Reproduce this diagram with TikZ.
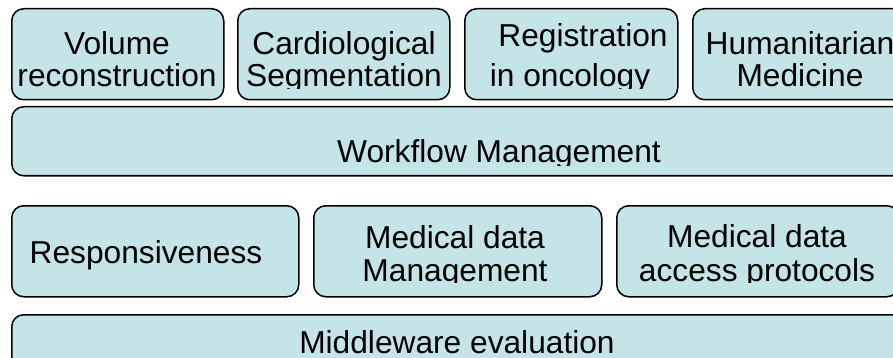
\documentclass[tikz,border=0pt]{standalone}
\usepackage{fontspec}
\setmainfont{Liberation Sans}
\definecolor{boxfill}{HTML}{C4E4E7}
\begin{document}
\begin{tikzpicture}[x=1pt,y=-1pt,
  box/.style={draw=black, line width=1.5pt, fill=boxfill, rounded corners=12pt, anchor=north west, inner sep=0pt},
  lbl/.style={anchor=base, inner sep=0pt, font=\fontsize{31.7}{33}\selectfont}]
\useasboundingbox (0,0) rectangle (893,358);
% row 1
\node[box, minimum width=212pt, minimum height=91pt] (b1) at (11,8) {};
\node[box, minimum width=212pt, minimum height=91pt] (b2) at (237,8) {};
\node[box, minimum width=213pt, minimum height=91pt] (b3) at (464,8) {};
\node[box, minimum width=216pt, minimum height=91pt] (b4) at (692,8) {};
\node[box, minimum width=976pt, minimum height=69pt] (wf) at (11,106) {};
% row 2
\node[box, minimum width=287pt, minimum height=91pt] (c1) at (11,205) {};
\node[box, minimum width=288pt, minimum height=91pt] (c2) at (313,205) {};
\node[box, minimum width=282pt, minimum height=91pt] (c3) at (616,205) {};
\node[box, minimum width=976pt, minimum height=80pt] (mw) at (11,314) {};
% texts
\begin{scope}
\clip (0,0) rectangle (893,88.5);
\node[lbl] (t1a) at (117,55) {Volume};
\node[lbl] (t1b) at (117,87) {reconstruction};
\node[lbl] (t2a) at (344,55) {Cardiological};
\node[lbl] (t2b) at (344,87) {Segmentation};
\node[lbl] (t3a) at (583,47) {Registration};
\node[lbl] (t3b) at (570,87) {in oncology};
\node[lbl] (t4a) at (800,55) {Humanitarian};
\node[lbl] (t4b) at (800,87) {Medicine};
\end{scope}
\begin{scope}
\clip (0,106) rectangle (893,166);
\node[lbl] (twf) at (499,163) {Workflow Management};
\end{scope}
\begin{scope}
\clip (0,205) rectangle (893,282.5);
\node[lbl] (u1) at (146,263) {Responsiveness};
\node[lbl] (u2a) at (455,248) {Medical data};
\node[lbl] (u2b) at (455,281.5) {Management};
\node[lbl] (u3a) at (757,247) {Medical data};
\node[lbl] (u3b) at (757,281) {access protocols};
\end{scope}
\node[lbl] (tmw) at (457,353.5) {Middleware evaluation};
\end{tikzpicture}
\end{document}
